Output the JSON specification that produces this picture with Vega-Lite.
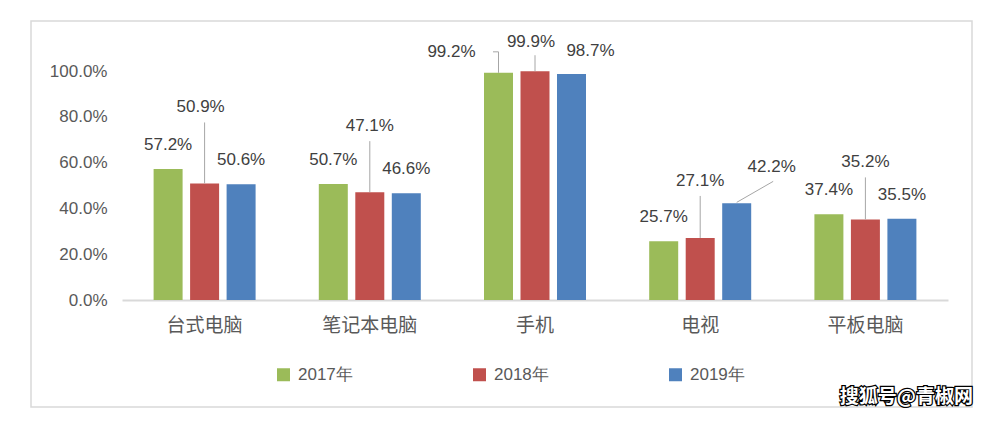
{
  "$schema": "https://vega.github.io/schema/vega-lite/v6.json",
  "width": 941,
  "height": 386,
  "autosize": {"type": "none"},
  "padding": {"left": 31, "top": 21, "right": 32, "bottom": 16},
  "background": "white",
  "config": {"view": {"stroke": "#D9D9D9", "strokeWidth": 1.5}},
  "data": {
    "values": [
      {"cat": "台式电脑", "year": "2017年", "v": 0.572},
      {"cat": "台式电脑", "year": "2018年", "v": 0.509},
      {"cat": "台式电脑", "year": "2019年", "v": 0.506},
      {"cat": "笔记本电脑", "year": "2017年", "v": 0.507},
      {"cat": "笔记本电脑", "year": "2018年", "v": 0.471},
      {"cat": "笔记本电脑", "year": "2019年", "v": 0.466},
      {"cat": "手机", "year": "2017年", "v": 0.992},
      {"cat": "手机", "year": "2018年", "v": 0.999},
      {"cat": "手机", "year": "2019年", "v": 0.987},
      {"cat": "电视", "year": "2017年", "v": 0.257},
      {"cat": "电视", "year": "2018年", "v": 0.271},
      {"cat": "电视", "year": "2019年", "v": 0.422},
      {"cat": "平板电脑", "year": "2017年", "v": 0.374},
      {"cat": "平板电脑", "year": "2018年", "v": 0.352},
      {"cat": "平板电脑", "year": "2019年", "v": 0.355}
    ]
  },
  "layer": [
    {
      "encoding": {
        "x": {
          "field": "cat", "type": "nominal",
          "sort": ["台式电脑", "笔记本电脑", "手机", "电视", "平板电脑"],
          "scale": {"range": [91, 917], "paddingInner": 0.3826, "paddingOuter": 0.1913},
          "axis": {"title": null, "orient": "bottom", "offset": -107, "domainColor": "#D9D9D9", "domainWidth": 2, "ticks": false, "grid": false, "labelAngle": 0, "labelFont": "Noto Sans CJK SC", "labelFontSize": 19, "labelColor": "#595959", "labelPadding": 16}
        },
        "xOffset": {"field": "year", "type": "nominal", "scale": {"paddingInner": 0.2055, "paddingOuter": 0}},
        "y": {
          "field": "v", "type": "quantitative",
          "scale": {"domain": [0, 1], "range": [279, 50], "nice": false},
          "axis": {"title": null, "orient": "left", "offset": -91, "domain": false, "ticks": false, "grid": false, "values": [0, 0.2, 0.4, 0.6, 0.8, 1], "format": ".1%", "labelFont": "Liberation Sans", "labelFontSize": 17, "labelColor": "#595959", "labelPadding": 15}
        }
      },
      "layer": [
        {
          "mark": {"type": "bar"},
          "encoding": {
            "color": {
              "field": "year", "type": "nominal",
              "scale": {"range": ["#9BBB59", "#C0504D", "#4F81BD"]},
              "legend": {"title": null, "orient": "none", "legendX": 244, "legendY": 345, "direction": "horizontal", "columns": 3, "columnPadding": 118, "symbolType": "square", "symbolSize": 169, "symbolStrokeWidth": 0, "labelFont": "Liberation Sans", "labelFontSize": 17, "labelColor": "#595959", "labelOffset": 6}
            }
          }
        },
        {
          "transform": [{"filter": "datum.year != '2018年' && datum.cat != '手机' && !(datum.cat == '电视' && datum.year == '2019年')"}],
          "mark": {"type": "text", "font": "Liberation Sans", "fontSize": 17, "color": "#404040", "baseline": "middle", "dy": -24},
          "encoding": {"text": {"field": "v", "format": ".1%"}}
        },
        {
          "transform": [{"filter": "datum.cat == '手机' && datum.year == '2017年'"}],
          "mark": {"type": "text", "font": "Liberation Sans", "fontSize": 17, "color": "#404040", "baseline": "middle", "dx": -47, "dy": -21},
          "encoding": {"text": {"field": "v", "format": ".1%"}}
        },
        {
          "transform": [{"filter": "datum.cat == '手机' && datum.year == '2019年'"}],
          "mark": {"type": "text", "font": "Liberation Sans", "fontSize": 17, "color": "#404040", "baseline": "middle", "dx": 19, "dy": -23},
          "encoding": {"text": {"field": "v", "format": ".1%"}}
        },
        {
          "transform": [{"filter": "datum.cat == '电视' && datum.year == '2019年'"}],
          "mark": {"type": "text", "font": "Liberation Sans", "fontSize": 17, "color": "#404040", "baseline": "middle", "dx": 35, "dy": -36},
          "encoding": {"text": {"field": "v", "format": ".1%"}}
        },
        {
          "transform": [{"filter": "datum.cat == '电视' && datum.year == '2019年'"}],
          "mark": {"type": "rule", "color": "#A6A6A6", "strokeWidth": 1, "xOffset": -1, "yOffset": -1, "x2Offset": 73, "y2Offset": -22},
          "encoding": {"x2": {"field": "cat"}, "y2": {"field": "v"}}
        },
        {
          "transform": [{"filter": "datum.cat == '手机' && datum.year == '2017年'"}],
          "mark": {"type": "rule", "color": "#A6A6A6", "strokeWidth": 1, "xOffset": -14.5, "yOffset": -21, "x2Offset": -42, "y2Offset": -21},
          "encoding": {"x2": {"field": "cat"}, "y2": {"field": "v"}}
        },
        {
          "transform": [{"filter": "datum.cat == '手机' && datum.year == '2017年'"}],
          "mark": {"type": "rule", "color": "#A6A6A6", "strokeWidth": 1, "xOffset": -5.5, "yOffset": -21, "x2Offset": -36.5, "y2Offset": 0},
          "encoding": {"x2": {"field": "cat"}, "y2": {"field": "v"}}
        },
        {
          "transform": [{"filter": "datum.cat == '手机' && datum.year == '2018年'"}],
          "mark": {"type": "text", "font": "Liberation Sans", "fontSize": 17, "color": "#404040", "baseline": "middle", "dx": -4, "dy": -29},
          "encoding": {"text": {"field": "v", "format": ".1%"}}
        },
        {
          "transform": [{"filter": "datum.cat == '手机' && datum.year == '2018年'"}],
          "mark": {"type": "rule", "color": "#A6A6A6", "strokeWidth": 1, "xOffset": -3, "yOffset": -16, "x2Offset": 0, "y2Offset": 0},
          "encoding": {"x2": {"field": "cat"}, "y2": {"field": "v"}}
        },
        {
          "transform": [{"filter": "datum.cat == '台式电脑' && datum.year == '2018年'"}],
          "mark": {"type": "text", "font": "Liberation Sans", "fontSize": 17, "color": "#404040", "baseline": "middle", "dx": -4, "dy": -76},
          "encoding": {"text": {"field": "v", "format": ".1%"}}
        },
        {
          "transform": [{"filter": "datum.cat == '台式电脑' && datum.year == '2018年'"}],
          "mark": {"type": "rule", "color": "#A6A6A6", "strokeWidth": 1, "y2Offset": -61},
          "encoding": {"y2": {"field": "v"}}
        },
        {
          "transform": [{"filter": "datum.cat == '笔记本电脑' && datum.year == '2018年'"}],
          "mark": {"type": "text", "font": "Liberation Sans", "fontSize": 17, "color": "#404040", "baseline": "middle", "dy": -66},
          "encoding": {"text": {"field": "v", "format": ".1%"}}
        },
        {
          "transform": [{"filter": "datum.cat == '笔记本电脑' && datum.year == '2018年'"}],
          "mark": {"type": "rule", "color": "#A6A6A6", "strokeWidth": 1, "y2Offset": -51},
          "encoding": {"y2": {"field": "v"}}
        },
        {
          "transform": [{"filter": "(datum.cat == '电视' || datum.cat == '平板电脑') && datum.year == '2018年'"}],
          "mark": {"type": "text", "font": "Liberation Sans", "fontSize": 17, "color": "#404040", "baseline": "middle", "dy": -57},
          "encoding": {"text": {"field": "v", "format": ".1%"}}
        },
        {
          "transform": [{"filter": "(datum.cat == '电视' || datum.cat == '平板电脑') && datum.year == '2018年'"}],
          "mark": {"type": "rule", "color": "#A6A6A6", "strokeWidth": 1, "y2Offset": -42},
          "encoding": {"y2": {"field": "v"}}
        }
      ]
    },
    {
      "data": {"values": [{"t": "搜狐号@青椒网"}]},
      "mark": {"type": "text", "font": "Noto Sans CJK SC", "fontSize": 19, "fontWeight": "bold", "fill": "#000000", "stroke": "#000000", "strokeWidth": 2.5, "dx": 41, "baseline": "middle", "align": "center"},
      "encoding": {"x": {"datum": "平板电脑"}, "y": {"datum": -0.424}, "text": {"field": "t"}}
    },
    {
      "data": {"values": [{"t": "搜狐号@青椒网"}]},
      "mark": {"type": "text", "font": "Noto Sans CJK SC", "fontSize": 19, "fontWeight": "bold", "fill": "#FFFFFF", "dx": 41, "baseline": "middle", "align": "center"},
      "encoding": {"x": {"datum": "平板电脑"}, "y": {"datum": -0.424}, "text": {"field": "t"}}
    }
  ]
}
